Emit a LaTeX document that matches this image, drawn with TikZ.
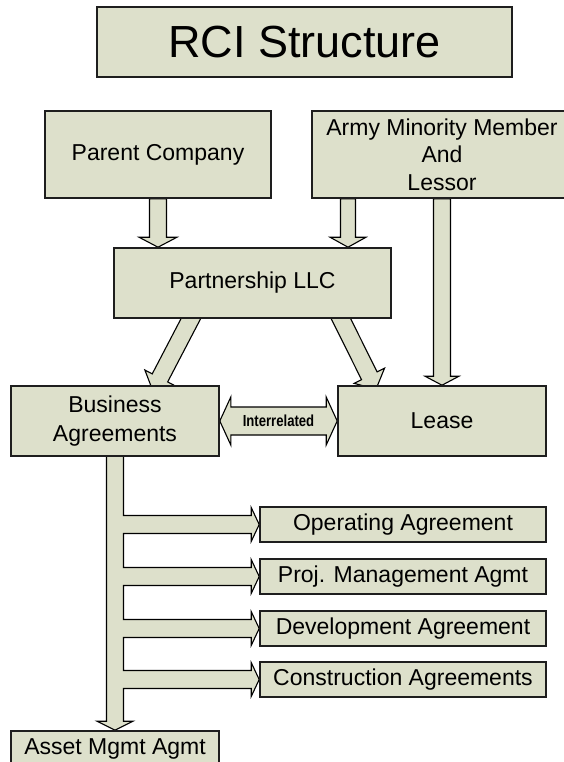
\documentclass[tikz,border=0pt]{standalone}
\usepackage{fontspec}
\setmainfont{Liberation Sans}
\usetikzlibrary{calc}
\definecolor{boxfill}{RGB}{221,224,203}
\definecolor{edge}{RGB}{30,30,30}
\pgfdeclarelayer{bg}
\pgfsetlayers{bg,main}
\tikzset{
  box/.style={draw=edge, line width=1.6pt, fill=boxfill, inner sep=0pt, align=center,
    font=\fontsize{23}{27.5}\selectfont},
  blk/.style={draw=black, line width=1.1pt, fill=boxfill, line join=miter},
  smalllabel/.style={font=\bfseries\fontsize{16}{17}\selectfont, inner sep=0pt}
}
\newcommand{\blkarrow}[5]{%
  \path ($(#2)!#5!(#1)$) coordinate (bah);
  \draw[blk] ($(#1)!#3!90:(#2)$) -- ($(bah)!#3!90:(#2)$) -- ($(bah)!#4!90:(#2)$) -- (#2)
    -- ($(bah)!#4!-90:(#2)$) -- ($(bah)!#3!-90:(#2)$) -- ($(#1)!#3!-90:(#2)$) -- cycle;
}
\begin{document}
\begin{tikzpicture}[x=1pt,y=-1pt]
\useasboundingbox (0,0) rectangle (563,762);
% nodes
\node[box, minimum width=415pt, minimum height=70pt, font=\fontsize{45}{50}\selectfont] (title) at (304.5,42) {RCI Structure};
\node[box, minimum width=226pt, minimum height=87pt] (parent) at (158,154.5) {Parent Company};
\node[box, minimum width=260pt, minimum height=87pt] (army) at (442,154.5) {Army Minority Member\\And\\Lessor};
\node[box, minimum width=277pt, minimum height=70pt] (partner) at (252.5,283) {Partnership LLC};
\node[box, minimum width=208pt, minimum height=70pt, font=\fontsize{23}{28.5}\selectfont] (business) at (115,421) {Business\\Agreements};
\node[box, minimum width=208pt, minimum height=70pt] (lease) at (442,421) {Lease};
\node[box, minimum width=286pt, minimum height=35pt] (op) at (403,524.5) {Operating Agreement};
\node[box, minimum width=286pt, minimum height=35pt] (proj) at (403,576.5) {Proj. Management Agmt};
\node[box, minimum width=286pt, minimum height=35pt] (dev) at (403,628.5) {Development Agreement};
\node[box, minimum width=286pt, minimum height=35pt] (con) at (403,679.5) {Construction Agreements};
\node[box, minimum width=208pt, minimum height=35pt] (asset) at (115,748.5) {Asset Mgmt Agmt};
% connectors
\coordinate (pa1) at (parent.south);
\coordinate (pa2) at (parent.south |- partner.north);
\coordinate (aa1) at ($(army.south)+(-94,0)$);
\coordinate (aa2) at (aa1 |- partner.north);
\coordinate (al1) at (army.south);
\coordinate (al2) at (lease.north);
\coordinate (pb1) at ($(partner.south)+(-56.5,-10)$);
\coordinate (pb2) at ($(business.north)+(38,6)$);
\coordinate (pl1) at ($(partner.south)+(83.5,-10)$);
\coordinate (pl2) at ($(lease.north)+(-66,4)$);
\begin{pgfonlayer}{bg}
\blkarrow{pa1}{pa2}{8.5pt}{19pt}{10pt}
\blkarrow{aa1}{aa2}{7.5pt}{18pt}{10pt}
\blkarrow{al1}{al2}{8.5pt}{17pt}{9pt}
\blkarrow{pb1}{pb2}{8.7pt}{17pt}{15pt}
\blkarrow{pl1}{pl2}{8.7pt}{17pt}{15pt}
% interrelated double arrow
\draw[blk] (business.east) -- ($(business.east)+(11,-24)$) -- ($(business.east)+(11,-14)$)
  -- ($(lease.west)+(-11,-14)$) -- ($(lease.west)+(-11,-24)$) -- (lease.west)
  -- ($(lease.west)+(-11,24)$) -- ($(lease.west)+(-11,14)$)
  -- ($(business.east)+(11,14)$) -- ($(business.east)+(11,24)$) -- cycle;
% trunk with branches
\coordinate (tt) at ($(business.south)+(0,-5)$);
\coordinate (tb) at (business.south |- asset.north);
\draw[blk] ($(tt)+(-8.5,0)$) -- ($(tb)+(-8.5,-9)$) -- ($(tb)+(-18,-9)$) -- (tb)
  -- ($(tb)+(18,-9)$) -- ($(tb)+(8.5,-9)$)
  -- ($(tb |- con.west)+(8.5,9)$) -- ($(con.west)+(-8,9)$) -- ($(con.west)+(-8,17)$) -- (con.west)
  -- ($(con.west)+(-8,-17)$) -- ($(con.west)+(-8,-9)$) -- ($(tb |- con.west)+(8.5,-9)$)
  -- ($(tb |- dev.west)+(8.5,9)$) -- ($(dev.west)+(-8,9)$) -- ($(dev.west)+(-8,17)$) -- (dev.west)
  -- ($(dev.west)+(-8,-17)$) -- ($(dev.west)+(-8,-9)$) -- ($(tb |- dev.west)+(8.5,-9)$)
  -- ($(tb |- proj.west)+(8.5,9)$) -- ($(proj.west)+(-8,9)$) -- ($(proj.west)+(-8,17)$) -- (proj.west)
  -- ($(proj.west)+(-8,-17)$) -- ($(proj.west)+(-8,-9)$) -- ($(tb |- proj.west)+(8.5,-9)$)
  -- ($(tb |- op.west)+(8.5,9)$) -- ($(op.west)+(-8,9)$) -- ($(op.west)+(-8,17)$) -- (op.west)
  -- ($(op.west)+(-8,-17)$) -- ($(op.west)+(-8,-9)$) -- ($(tb |- op.west)+(8.5,-9)$)
  -- ($(tt)+(8.5,0)$) -- cycle;
\end{pgfonlayer}
\node[smalllabel] (inter) at ($(business.east)!0.5!(lease.west)$) {\scalebox{0.82}[1]{Interrelated}};
\end{tikzpicture}
\end{document}
